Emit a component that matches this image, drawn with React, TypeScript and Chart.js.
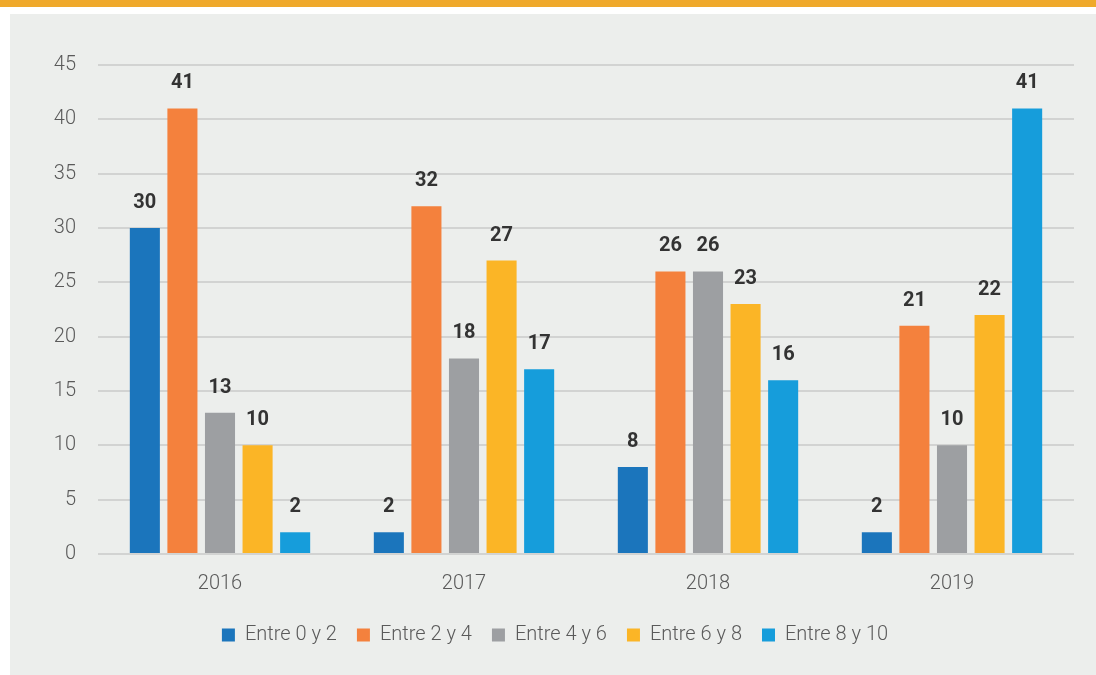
import React, { useEffect, useRef } from "react";
import { Chart, registerables } from "chart.js";

Chart.register(...registerables);

const categories = ["2016", "2017", "2018", "2019"];
const seriesNames = ["Entre 0 y 2", "Entre 2 y 4", "Entre 4 y 6", "Entre 6 y 8", "Entre 8 y 10"];
const s0a2 = [30, 2, 8, 2];
const s2a4 = [41, 32, 26, 21];
const s4a6 = [13, 18, 26, 10];
const s6a8 = [10, 27, 23, 22];
const s8a10 = [2, 17, 16, 41];
const seriesColors = ["#1b75bc", "#f4813d", "#9d9fa2", "#fbb526", "#169ddb"];
const yTicks = [0, 5, 10, 15, 20, 25, 30, 35, 40, 45];

const FONT = "Roboto, 'Open Sans', sans-serif";

const valueLabels = {
  id: "valueLabels",
  afterDatasetsDraw(chart: any) {
    const ctx = chart.ctx;
    ctx.save();
    ctx.font = `bold 20px ${FONT}`;
    ctx.fillStyle = "#333333";
    ctx.textAlign = "center";
    ctx.textBaseline = "middle";
    chart.data.datasets.forEach((ds: any, di: number) => {
      const meta = chart.getDatasetMeta(di);
      meta.data.forEach((el: any, i: number) => {
        ctx.fillText(String(ds.data[i]), el.x, el.y - 25);
      });
    });
    ctx.restore();
  },
};

export default function App() {
  const ref = useRef<HTMLCanvasElement>(null);
  useEffect(() => {
    if (!ref.current) return;
    const allSeries = [s0a2, s2a4, s4a6, s6a8, s8a10];
    const chart = new Chart(ref.current, {
      type: "bar",
      data: {
        labels: categories,
        datasets: allSeries.map((d, i) => ({
          label: seriesNames[i],
          data: d,
          backgroundColor: seriesColors[i],
          borderWidth: 0,
          categoryPercentage: 0.77,
          barPercentage: 0.8,
        })),
      },
      options: {
        animation: false,
        responsive: false,
        maintainAspectRatio: false,
        layout: { padding: { top: 51, right: 22, bottom: 20, left: 26 } },
        plugins: {
          legend: {
            position: "bottom",
            labels: {
              boxWidth: 13,
              boxHeight: 13,
              padding: 20,
              color: "#5a5a5a",
              font: { family: FONT, size: 20, weight: "300" as any },
            },
          },
          tooltip: { enabled: false },
        },
        scales: {
          x: {
            grid: { display: false },
            border: { display: false },
            afterFit(scale: any) {
              scale.height = 51;
            },
            ticks: {
              color: "#5a5a5a",
              padding: 10,
              font: { family: FONT, size: 20, weight: "300" as any },
            },
          },
          y: {
            min: 0,
            max: 45,
            afterFit(scale: any) {
              scale.width = 62;
            },
            afterBuildTicks(scale: any) {
              scale.ticks = yTicks.map((v) => ({ value: v }));
            },
            grid: { color: "#d2d3d2", lineWidth: 2, drawTicks: false },
            border: { display: false },
            ticks: {
              color: "#5a5a5a",
              padding: 22,
              font: { family: FONT, size: 20, weight: "300" as any },
            },
          },
        },
      },
      plugins: [valueLabels],
    });
    return () => chart.destroy();
  }, []);

  return (
    <div style={{ position: "fixed", left: 0, top: 0, width: 1096, height: 675, background: "#ffffff" }}>
      <div style={{ position: "absolute", left: 0, top: 0, width: 1096, height: 7, background: "#efa92b" }} />
      <div style={{ position: "absolute", left: 10, top: 14, width: 1086, height: 661, background: "#eceeec" }}>
        <canvas ref={ref} width={1086} height={661} style={{ display: "block" }} />
      </div>
    </div>
  );
}
